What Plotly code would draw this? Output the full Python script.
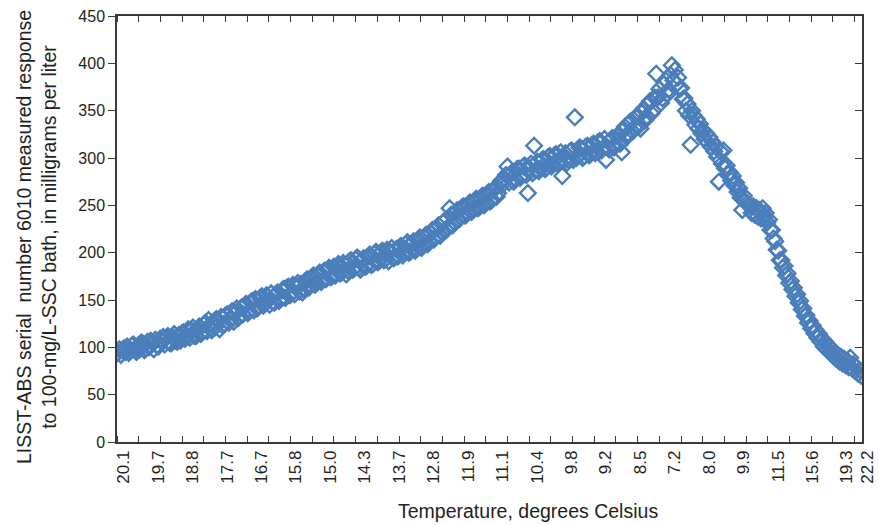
import plotly.graph_objects as go

# LISST-ABS 6010 response in a 100 mg/L SSC bath, in measurement order
response_mg_per_l = [
    94, 98, 92, 97, 99, 95, 101, 94, 96, 102, 103, 97, 95, 102, 98, 105, 104, 97, 99, 106,
    100, 107, 105, 98, 108, 102, 101, 109, 107, 111, 103, 110, 112, 105, 104, 111, 114, 107, 106, 113,
    107, 115, 116, 109, 111, 119, 110, 118, 121, 112, 112, 120, 122, 114, 116, 124, 126, 117, 129, 120,
    118, 127, 121, 130, 128, 119, 132, 123, 125, 134, 135, 126, 129, 138, 127, 136, 141, 131, 133, 142,
    135, 144, 146, 136, 138, 148, 149, 139, 151, 141, 143, 152, 154, 144, 146, 155, 153, 145, 157, 148,
    147, 156, 158, 149, 151, 160, 162, 152, 163, 164, 155, 157, 166, 156, 165, 168, 159, 167, 158,
    161, 170, 172, 163, 165, 174, 176, 166, 168, 177, 179, 169, 171, 181, 172, 182, 184, 174, 175, 185,
    176, 186, 188, 178, 179, 189, 187, 177, 181, 191, 192, 182, 183, 193, 195, 184, 182, 192, 194, 185,
    186, 196, 198, 187, 188, 199, 201, 190, 191, 200, 202, 192, 193, 203, 191, 201, 205, 194, 195, 204,
    196, 206, 207, 197, 199, 209, 211, 200, 201, 210, 212, 202, 204, 214, 216, 205, 207, 217, 219, 209,
    211, 221, 224, 214, 216, 226, 229, 218, 221, 232, 234, 224, 227, 247, 240, 229, 232, 243, 245, 235,
    238, 248, 249, 239, 241, 251, 253, 243, 245, 255, 257, 247, 248, 258, 260, 250, 252, 262, 264, 254,
    256, 266, 268, 259, 263, 273, 276, 272, 278, 282, 291, 274, 283, 285, 275, 278, 288, 289, 279,
    281, 291, 292, 282, 263, 289, 294, 284, 313, 287, 296, 286, 289, 298, 299, 288, 290, 301, 302, 291,
    293, 303, 304, 294, 296, 306, 281, 297, 305, 295, 298, 307, 308, 298, 343, 300, 302, 311, 310, 300,
    302, 312, 313, 303, 304, 314, 315, 305, 307, 317, 318, 308, 310, 320, 298, 311, 309, 319, 321, 311,
    313, 323, 325, 315, 306, 329, 333, 322, 326, 337, 339, 328, 332, 343, 345, 334, 331, 348, 352, 340,
    344, 357, 360, 347, 350, 364, 389, 364, 373, 358, 363, 378, 382, 367, 372, 388, 398, 382, 393, 378,
    385, 373, 374, 362, 363, 350, 357, 345, 314, 350, 345, 335, 341, 331, 336, 326, 329, 320, 326, 316,
    322, 312, 317, 307, 312, 301, 275, 307, 294, 308, 289, 292, 283, 285, 276, 281, 271, 274, 264,
    268, 258, 245, 260, 254, 252, 250, 249, 242, 249, 240, 247, 238, 245, 236, 247, 237, 242, 232,
    235, 224, 224, 215, 212, 203, 202, 192, 192, 184, 186, 176, 178, 168, 170, 161, 163, 154, 156, 147,
    149, 140, 141, 133, 134, 126, 128, 120, 123, 115, 118, 110, 114, 106, 109, 101, 106, 98, 102, 95,
    98, 91, 95, 88, 92, 85, 90, 83, 88, 81, 86, 79, 89, 78, 82, 75, 79, 72, 76, 70,
]
sample_index = list(range(len(response_mg_per_l)))

# Bath temperature (degrees Celsius) printed at selected samples
temperature_labels = ["20.1", "19.7", "18.8", "17.7", "16.7", "15.8", "15.0", "14.3",
                      "13.7", "12.8", "11.9", "11.1", "10.4", "9.8", "9.2", "8.5",
                      "7.2", "8.0", "9.9", "11.5", "15.6", "19.3", "22.2"]
label_index = [0, 22, 44, 66, 88, 110, 132, 154, 176, 198, 220, 242, 264, 286,
               308, 330, 352, 374, 396, 418, 440, 462, 475]

BLUE = "#4A7EBB"
INK = "#231F20"
AXIS = "#3a3a3a"
FONT = "Liberation Sans"

fig = go.Figure()
fig.add_trace(go.Scatter(
    x=sample_index, y=response_mg_per_l, mode="markers",
    marker=dict(symbol="diamond-open", size=12, color=BLUE,
                line=dict(width=2.4, color=BLUE)),
    showlegend=False, hoverinfo="x+y",
))
# transparent copy so the right-hand frame axis is rendered
fig.add_trace(go.Scatter(
    x=sample_index, y=response_mg_per_l, mode="markers", yaxis="y2",
    marker=dict(opacity=0), showlegend=False, hoverinfo="skip",
))

n = len(response_mg_per_l)
fig.update_layout(
    width=879, height=525,
    margin=dict(l=117, r=2, t=16, b=83),
    paper_bgcolor="white", plot_bgcolor="white",
    font=dict(family=FONT, color=INK),
    xaxis=dict(
        range=[-0.5, n - 0.5], tickmode="array",
        tickvals=label_index, ticktext=temperature_labels,
        tickangle=-90, ticks="", tickfont=dict(size=17, family=FONT, color=INK),
        ticklabeloverflow="allow", ticklabelshift=6,
        showgrid=False, zeroline=False,
        showline=True, linecolor=AXIS, linewidth=1.5, mirror="ticks",
        minor=dict(tickmode="linear", tick0=-0.5, dtick=13.86, ticks="inside",
                   ticklen=6, tickwidth=1.3, tickcolor=AXIS, showgrid=False),
    ),
    yaxis=dict(
        range=[0, 450], tickmode="linear", tick0=0, dtick=50,
        ticks="outside", ticklen=7, tickwidth=1.3, tickcolor=AXIS,
        tickfont=dict(size=16, family=FONT, color=INK),
        showgrid=False, zeroline=False,
        showline=True, linecolor=AXIS, linewidth=1.5,
    ),
    yaxis2=dict(
        overlaying="y", side="right", range=[0, 450],
        tickmode="linear", tick0=0, dtick=50,
        ticks="inside", ticklen=7, tickwidth=1.3, tickcolor=AXIS,
        showticklabels=False, showgrid=False, zeroline=False,
        showline=True, linecolor=AXIS, linewidth=1.5,
    ),
    annotations=[
        dict(text="LISST-ABS serial  number 6010 measured response<br>"
                  "to 100-mg/L-SSC bath, in milligrams per liter",
             xref="paper", yref="paper", x=-0.108, y=0.48,
             xanchor="center", yanchor="middle", textangle=-90,
             showarrow=False, font=dict(size=19.5, family=FONT, color=INK)),
        dict(text="Temperature, degrees Celsius",
             xref="paper", yref="paper", x=0.552, y=-0.162,
             xanchor="center", yanchor="middle",
             showarrow=False, font=dict(size=19.5, family=FONT, color=INK)),
    ],
)

fig.write_html("out.html")
